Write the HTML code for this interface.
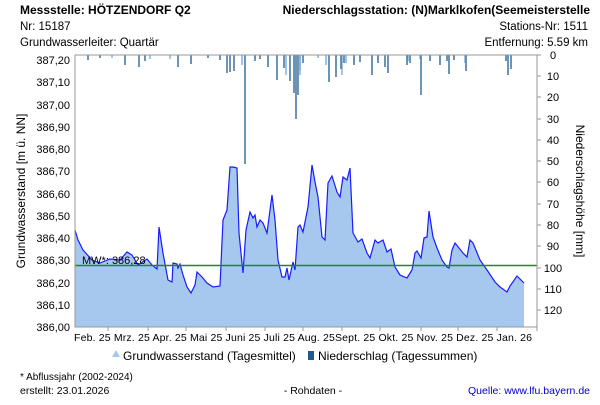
<!DOCTYPE html><html><head><style>
body{margin:0;width:600px;height:400px;background:#fff;font-family:"Liberation Sans",sans-serif;overflow:hidden}
svg text{font-family:"Liberation Sans",sans-serif}
</style></head><body>
<svg width="600" height="400" xmlns="http://www.w3.org/2000/svg">
<g font-size="12" font-weight="bold" fill="#000">
<text x="20" y="14">Messstelle: HÖTZENDORF Q2</text>
<text x="590" y="14" text-anchor="end">Niederschlagsstation: (N)Marklkofen(Seemeisterstelle</text>
</g>
<g font-size="11.5" fill="#000">
<text x="20" y="30">Nr: 15187</text>
<text x="20" y="46">Grundwasserleiter: Quartär</text>
<text x="588" y="30" text-anchor="end">Stations-Nr: 1511</text>
<text x="588" y="46" text-anchor="end">Entfernung: 5.59 km</text>
</g>
<polygon fill="#a6c8ee" points="75,230 78,240 83,250 92,260 100,263 110,259 120,260 127,252 132,255 138,265 147,259 152,265 157,269 159,227 163,253 168,280 172,282 173,263 177,264 178,268 180,264 183,275 187,287 191,293 195,285 197,272 202,277 207,283 213,287 220,286 223,220 227,210 230,167 233,167 237,168 239,233 243,273 246,230 250,212 253,218 255,215 257,227 260,220 263,223 267,233 272,195 275,220 278,260 282,277 285,277 287,268 289,280 293,262 295,270 298,227 300,225 303,232 308,207 312,165 315,182 318,197 322,237 325,240 328,183 332,176 337,192 340,197 343,177 347,180 350,168 353,233 358,242 362,239 367,253 370,258 375,240 378,243 383,240 387,252 391,249 395,267 400,275 407,278 412,270 415,253 417,251 421,258 424,238 427,237 429,211 433,237 437,248 442,260 447,267 449,268 452,250 455,243 463,253 467,257 470,240 473,243 480,260 487,270 495,282 500,287 507,292 510,286 517,276 524,283 524,327 75,327"/>
<polyline fill="none" stroke="#1a1aff" stroke-width="1.2" points="75,230 78,240 83,250 92,260 100,263 110,259 120,260 127,252 132,255 138,265 147,259 152,265 157,269 159,227 163,253 168,280 172,282 173,263 177,264 178,268 180,264 183,275 187,287 191,293 195,285 197,272 202,277 207,283 213,287 220,286 223,220 227,210 230,167 233,167 237,168 239,233 243,273 246,230 250,212 253,218 255,215 257,227 260,220 263,223 267,233 272,195 275,220 278,260 282,277 285,277 287,268 289,280 293,262 295,270 298,227 300,225 303,232 308,207 312,165 315,182 318,197 322,237 325,240 328,183 332,176 337,192 340,197 343,177 347,180 350,168 353,233 358,242 362,239 367,253 370,258 375,240 378,243 383,240 387,252 391,249 395,267 400,275 407,278 412,270 415,253 417,251 421,258 424,238 427,237 429,211 433,237 437,248 442,260 447,267 449,268 452,250 455,243 463,253 467,257 470,240 473,243 480,260 487,270 495,282 500,287 507,292 510,286 517,276 524,283"/>
<line x1="75" y1="265.5" x2="537" y2="265.5" stroke="#1e8a1e" stroke-width="1.5"/>
<text x="82" y="264" font-size="11" fill="#000">MW*: 386,28</text>
<g stroke="#1e5a8c" stroke-width="1.3">
<path d="M88 55v5M100 55v3M125 55v10M139 55v12M145 55v6M178 55v12M191 55v9M208 55v3M220 55v5M227 55v18M230 55v17M234 55v16M245 55v109M255 55v6M260 55v4M268 55v12M277 55v25M284 55v13M290 55v26M294 55v38M296 55v64M298 55v40M300 55v15M303 55v8M329 55v27M336 55v22M341 55v14M344 55v8M354 55v10M360 55v7M372 55v20M378 55v8M385 55v12M388 55v18M407 55v10M410 55v8M421 55v40M430 55v6M440 55v10M447 55v6M449 55v19M454 55v5M466 55v16M506 55v6M508 55v20M511 55v14"/>
</g>
<g stroke="#6fa6d8" stroke-width="1.3">
<path d="M112 55v3M150 55v4M170 55v4M242 55v10M286 55v20M300 55v20M318 55v3M326 55v10M342 55v20M346 55v8M408 55v6M420 55v4M465 55v8"/>
</g>
<rect x="75" y="55" width="462" height="272" fill="none" stroke="#999"/>
<g font-size="11" fill="#000" text-anchor="end">
<text x="70" y="64">387,20</text><text x="70" y="86">387,10</text><text x="70" y="109">387,00</text><text x="70" y="131">386,90</text><text x="70" y="153">386,80</text><text x="70" y="175">386,70</text><text x="70" y="198">386,60</text><text x="70" y="220">386,50</text><text x="70" y="242">386,40</text><text x="70" y="264">386,30</text><text x="70" y="287">386,20</text><text x="70" y="309">386,10</text><text x="70" y="331">386,00</text>
</g>
<g font-size="11" fill="#000" text-anchor="middle">
<text x="553" y="59">0</text><text x="553" y="80">10</text><text x="553" y="101">20</text><text x="553" y="123">30</text><text x="553" y="144">40</text><text x="553" y="165">50</text><text x="553" y="186">60</text><text x="553" y="208">70</text><text x="553" y="229">80</text><text x="553" y="250">90</text><text x="553" y="272">100</text><text x="553" y="293">110</text><text x="553" y="314">120</text>
</g>
<g stroke="#999"><path d="M537 55h4M537 76h4M537 97h4M537 119h4M537 140h4M537 161h4M537 182h4M537 204h4M537 225h4M537 246h4M537 268h4M537 289h4M537 310h4M108 327v4M148 327v4M186 327v4M226 327v4M265 327v4M303 327v4M342 327v4M380 327v4M421 327v4M458 327v4M497 327v4M537 327v4"/></g>
<g font-size="10.5" fill="#000"><text x="74" y="341" textLength="458" lengthAdjust="spacing">Feb. 25 Mrz. 25 Apr. 25 Mai 25 Juni 25 Juli 25 Aug. 25Sept. 25 Okt. 25 Nov. 25 Dez. 25 Jan. 26</text></g>
<text transform="translate(25,191) rotate(-90)" font-size="12" text-anchor="middle">Grundwasserstand [m ü. NN]</text>
<text transform="translate(576,191) rotate(90)" font-size="12" text-anchor="middle">Niederschlagshöhe [mm]</text>
<path d="M112 357l4 -7l4 7z" fill="#a6c8ee"/>
<text x="123" y="360" font-size="12">Grundwasserstand (Tagesmittel)</text>
<rect x="308" y="351" width="6" height="9" fill="#1e5a8c"/>
<text x="318" y="360" font-size="12">Niederschlag (Tagessummen)</text>
<text x="20" y="380" font-size="10">* Abflussjahr (2002-2024)</text>
<text x="20" y="394" font-size="10.5">erstellt:  23.01.2026</text>
<text x="313" y="394" font-size="10.5" text-anchor="middle">- Rohdaten -</text>
<text x="590" y="394" font-size="10.5" text-anchor="end" fill="#0000cc">Quelle: www.lfu.bayern.de</text>
</svg>
</body></html>
